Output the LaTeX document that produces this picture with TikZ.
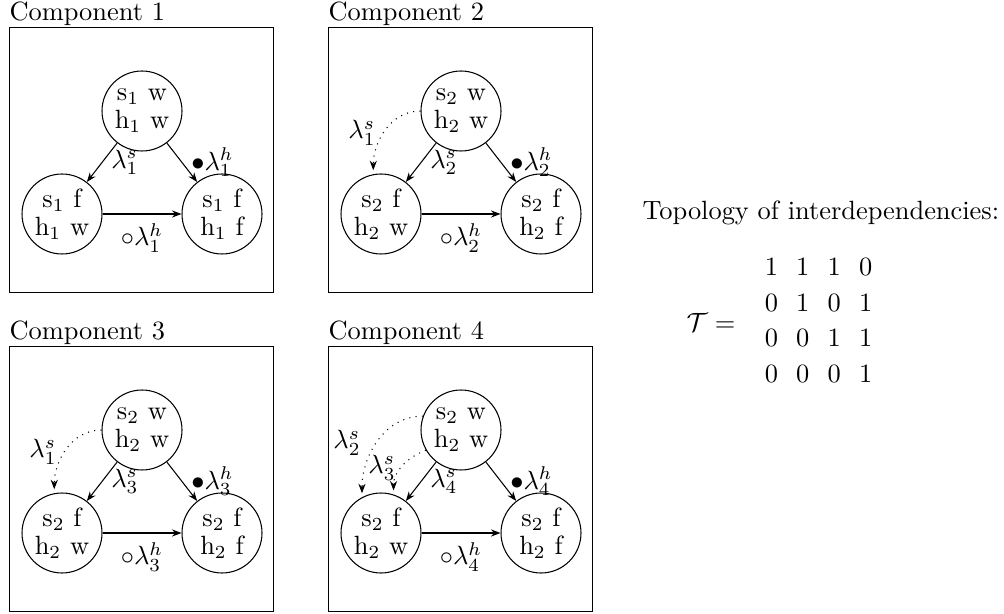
\documentclass[tikz,border=0pt]{standalone}
\usetikzlibrary{arrows.meta}
\begin{document}
\begin{tikzpicture}[x=0.3788pt,y=-0.3788pt,
  st/.style={draw, circle, minimum size=30.3pt, inner sep=0pt, align=center,
    font=\fontsize{10}{10.6}\selectfont},
  arr/.style={-{Stealth[length=3.6pt,width=2.7pt]}},
  dep/.style={arr, dotted, shorten >=1.5pt},
  compbox/.style={draw, anchor=north west, inner sep=0pt, minimum width=100pt, minimum height=100.4pt},
  ttl/.style={anchor=base west, inner sep=0pt},
  lbl/.style={inner sep=0pt}
]
\useasboundingbox (0,0) rectangle (1004,614);

% ---------- Component 1 ----------
\begin{scope}
\node[compbox] (b1) at (9,27) {};
\node[ttl] (h1) at ([yshift=2.3pt]b1.north west) {Component 1};
\node[st] (t1) at (142,111) {s$_1$ w\\h$_1$ w};
\node[st] (l1) at (62,214) {s$_1$ f\\h$_1$ w};
\node[st] (r1) at (222,214) {s$_1$ f\\h$_1$ f};
\draw[arr] (t1) -- node[right] {$\lambda_1^s$} (l1);
\draw[arr] (t1) -- node[right] {$\bullet\lambda_1^h$} (r1);
\draw[arr] (l1) -- node[below] {$\circ\lambda_1^h$} (r1);
\end{scope}

% ---------- Component 2 ----------
\begin{scope}[shift={(319,0)}]
\node[compbox] (b2) at (9,27) {};
\node[ttl] (h2) at ([yshift=2.3pt]b2.north west) {Component 2};
\node[st] (t2) at (142,111) {s$_2$ w\\h$_2$ w};
\node[st] (l2) at (62,214) {s$_2$ f\\h$_2$ w};
\node[st] (r2) at (222,214) {s$_2$ f\\h$_2$ f};
\draw[arr] (t2) -- node[right] {$\lambda_2^s$} (l2);
\draw[arr] (t2) -- node[right] {$\bullet\lambda_2^h$} (r2);
\draw[arr] (l2) -- node[below] {$\circ\lambda_2^h$} (r2);
\draw[dep] (t2.180) to[out=180,in=90] (l2.101);
\node[lbl] (d2a) at (43,133) {$\lambda_1^s$};
\end{scope}

% ---------- Component 3 ----------
\begin{scope}[shift={(0,319)}]
\node[compbox] (b3) at (9,27) {};
\node[ttl] (h3) at ([yshift=2.3pt]b3.north west) {Component 3};
\node[st] (t3) at (142,111) {s$_2$ w\\h$_2$ w};
\node[st] (l3) at (62,214) {s$_2$ f\\h$_2$ w};
\node[st] (r3) at (222,214) {s$_2$ f\\h$_2$ f};
\draw[arr] (t3) -- node[right] {$\lambda_3^s$} (l3);
\draw[arr] (t3) -- node[right] {$\bullet\lambda_3^h$} (r3);
\draw[arr] (l3) -- node[below] {$\circ\lambda_3^h$} (r3);
\draw[dep] (t3.180) to[out=180,in=90] (l3.101);
\node[lbl] (d3a) at (43,133) {$\lambda_1^s$};
\end{scope}

% ---------- Component 4 ----------
\begin{scope}[shift={(319,319)}]
\node[compbox] (b4) at (9,27) {};
\node[ttl] (h4) at ([yshift=2.3pt]b4.north west) {Component 4};
\node[st] (t4) at (142,111) {s$_2$ w\\h$_2$ w};
\node[st] (l4) at (62,214) {s$_2$ f\\h$_2$ w};
\node[st] (r4) at (222,214) {s$_2$ f\\h$_2$ f};
\draw[arr] (t4) -- node[right] {$\lambda_4^s$} (l4);
\draw[arr] (t4) -- node[right] {$\bullet\lambda_4^h$} (r4);
\draw[arr] (l4) -- node[below] {$\circ\lambda_4^h$} (r4);
\draw[dep] (t4.160) to[out=180,in=90] (l4.118);
\draw[dep] (t4.210) to[out=200,in=90] (l4.72);
\node[lbl] (d4a) at (28,124) {$\lambda_2^s$};
\node[lbl] (d4b) at (63,149) {$\lambda_3^s$};
\end{scope}

% ---------- Topology ----------
\node[anchor=base west, inner sep=0pt] (topo) at (642,220) {Topology of interdependencies:};
\node[inner sep=0pt] (teq) at (711,322) {$\mathcal{T} =$};
\node[inner sep=0pt] (mat) at (818.5,322) {\setlength{\arraycolsep}{3.45pt}\renewcommand{\arraystretch}{1.125}%
  $\begin{array}{cccc}
  1 & 1 & 1 & 0\\
  0 & 1 & 0 & 1\\
  0 & 0 & 1 & 1\\
  0 & 0 & 0 & 1
  \end{array}$};
\end{tikzpicture}
\end{document}
